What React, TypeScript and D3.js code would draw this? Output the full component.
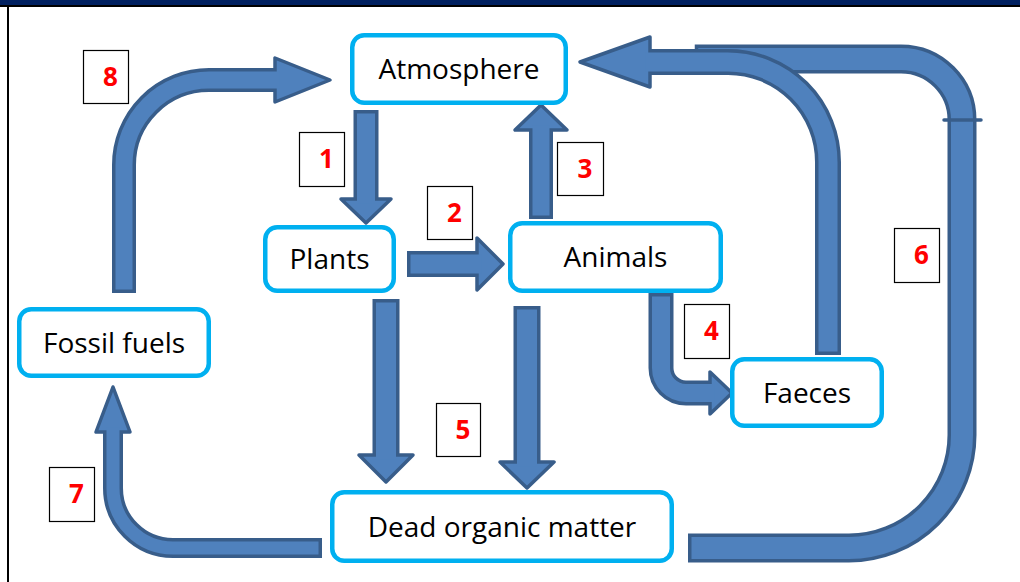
import React, { useEffect, useRef } from 'react';
import * as d3 from 'd3';

type Pt = [number, number];

// Stages of the carbon cycle (box labels)
const stageNames = ['Atmosphere', 'Plants', 'Animals', 'Fossil fuels', 'Faeces', 'Dead organic matter'];
// Step numbers shown in the small label boxes
const stepLabels = ['1', '2', '3', '4', '5', '6', '7', '8'];

// Layout of the stage boxes: x0, y0, x1, y1 (outer edge)
const stageBoxes: [number, number, number, number][] = [
  [350, 33, 568, 105],
  [263, 225, 396, 293],
  [508, 221, 723, 293],
  [17, 307, 211, 378],
  [730, 357, 884, 428],
  [330, 490, 674, 563],
];

// Layout of the step label boxes: x0, y0, x1, y1
const stepBoxes: [number, number, number, number][] = [
  [299, 132, 344, 186],
  [427, 186, 472, 239],
  [557, 142, 603, 195],
  [684, 304, 729, 358],
  [436, 403, 480, 456],
  [894, 228, 939, 282],
  [49, 467, 94, 521],
  [83, 50, 128, 103],
];

interface ArrowSpec {
  pts: Pt[];
  radii: number[];
  width: number;
  head?: { len: number; half: number };
}

const arrows: ArrowSpec[] = [
  // 6: dead organic matter -> atmosphere (drawn first, sits under the faeces arrow)
  { pts: [[688, 548], [962, 548], [962, 59], [693, 59]], radii: [113, 61], width: 29 },
  // faeces -> atmosphere
  { pts: [[828, 355], [828, 62], [580, 62]], radii: [100], width: 26, head: { len: 70, half: 25 } },
  // 1
  { pts: [[366, 110], [366, 223]], radii: [], width: 25, head: { len: 24, half: 25 } },
  // 2
  { pts: [[407, 264], [503, 264]], radii: [], width: 26, head: { len: 26, half: 26 } },
  // 3
  { pts: [[541, 219], [541, 105]], radii: [], width: 24, head: { len: 25, half: 26 } },
  // 4
  { pts: [[661, 293], [661, 393], [732, 393]], radii: [25], width: 25, head: { len: 22, half: 21 } },
  // 5
  { pts: [[386, 299], [386, 482]], radii: [], width: 27, head: { len: 27, half: 27 } },
  { pts: [[527, 306], [527, 488]], radii: [], width: 27, head: { len: 26, half: 27 } },
  // 7
  { pts: [[322, 548], [113, 548], [113, 387]], radii: [60], width: 20, head: { len: 45, half: 17 } },
  // 8
  { pts: [[124, 293], [124, 80], [330, 80]], radii: [85], width: 24, head: { len: 55, half: 22 } },
];

const FILL = '#4f81bd';
const EDGE = '#385d8a';
const EDGE_W = 3.5;

const unit = (a: Pt, b: Pt): Pt => {
  const dx = b[0] - a[0];
  const dy = b[1] - a[1];
  const l = Math.hypot(dx, dy);
  return [dx / l, dy / l];
};

const centerline = (pts: Pt[], radii: number[]) => {
  const p = d3.path();
  p.moveTo(pts[0][0], pts[0][1]);
  for (let i = 1; i < pts.length - 1; i++) {
    p.arcTo(pts[i][0], pts[i][1], pts[i + 1][0], pts[i + 1][1], radii[i - 1]);
  }
  const last = pts[pts.length - 1];
  p.lineTo(last[0], last[1]);
  return p.toString();
};

export default function App() {
  const svgRef = useRef<SVGSVGElement>(null);

  useEffect(() => {
    if (!svgRef.current) return;
    const svg = d3.select(svgRef.current);
    svg.selectAll('*').remove();

    // header strip and left rule
    svg.append('rect').attr('x', 0).attr('y', 0).attr('width', 1020).attr('height', 5).attr('fill', '#002060');
    svg.append('rect').attr('x', 0).attr('y', 5).attr('width', 1020).attr('height', 2).attr('fill', '#000');
    svg.append('rect').attr('x', 7).attr('y', 5).attr('width', 2).attr('height', 577).attr('fill', '#000');

    const g = svg.append('g');

    arrows.forEach((a) => {
      const n = a.pts.length;
      const tip = a.pts[n - 1];
      const dEnd = unit(a.pts[n - 2], tip);
      const dStart = unit(a.pts[0], a.pts[1]);

      // where the shaft stops
      const endCut = a.head ? a.head.len : EDGE_W / 2;
      const base: Pt = [tip[0] - dEnd[0] * endCut, tip[1] - dEnd[1] * endCut];
      const outer = [...a.pts.slice(0, n - 1), base] as Pt[];

      // inner stroke: trimmed at the tail, pushed into the head at the front
      const innerEnd: Pt = a.head
        ? [base[0] + dEnd[0] * (EDGE_W + 1), base[1] + dEnd[1] * (EDGE_W + 1)]
        : [base[0] - dEnd[0] * EDGE_W, base[1] - dEnd[1] * EDGE_W];
      const innerStart: Pt = [a.pts[0][0] + dStart[0] * EDGE_W, a.pts[0][1] + dStart[1] * EDGE_W];
      const inner = [innerStart, ...a.pts.slice(1, n - 1), innerEnd] as Pt[];

      g.append('path')
        .attr('d', centerline(outer, a.radii))
        .attr('fill', 'none')
        .attr('stroke', EDGE)
        .attr('stroke-width', a.width);

      if (a.head) {
        const nx = -dEnd[1];
        const ny = dEnd[0];
        const h = a.head.half;
        const headPts: Pt[] = [
          [base[0] + nx * h, base[1] + ny * h],
          tip,
          [base[0] - nx * h, base[1] - ny * h],
        ];
        g.append('path')
          .attr('d', d3.line()(headPts) + 'Z')
          .attr('fill', FILL)
          .attr('stroke', EDGE)
          .attr('stroke-width', EDGE_W)
          .attr('stroke-linejoin', 'round');
      }

      g.append('path')
        .attr('d', centerline(inner, a.radii))
        .attr('fill', 'none')
        .attr('stroke', FILL)
        .attr('stroke-width', a.width - 2 * EDGE_W);
    });

    // seam on the big right-hand arrow
    g.append('line')
      .attr('x1', 944).attr('x2', 981)
      .attr('y1', 120).attr('y2', 120)
      .attr('stroke', EDGE)
      .attr('stroke-width', 3.5)
      .attr('stroke-linecap', 'round');

    // stage boxes
    const boxes = svg.append('g');
    stageNames.forEach((name, i) => {
      const [x0, y0, x1, y1] = stageBoxes[i];
      boxes.append('rect')
        .attr('x', x0 + 2.25).attr('y', y0 + 2.25)
        .attr('width', x1 - x0 - 4.5).attr('height', y1 - y0 - 4.5)
        .attr('rx', 12)
        .attr('fill', '#fff')
        .attr('stroke', '#00b0f0')
        .attr('stroke-width', 4.5);
      boxes.append('text')
        .attr('x', (x0 + x1) / 2)
        .attr('y', (y0 + y1) / 2 + 10)
        .attr('text-anchor', 'middle')
        .attr('font-family', '"Open Sans", sans-serif')
        .attr('font-size', 28)
        .attr('fill', '#000')
        .text(name);
    });

    // step number labels
    const steps = svg.append('g');
    stepLabels.forEach((lab, i) => {
      const [x0, y0, x1, y1] = stepBoxes[i];
      steps.append('rect')
        .attr('x', x0 + 0.5).attr('y', y0 + 0.5)
        .attr('width', x1 - x0).attr('height', y1 - y0)
        .attr('fill', '#fff')
        .attr('stroke', '#000')
        .attr('stroke-width', 1.2);
      steps.append('text')
        .attr('x', (x0 + x1) / 2 + 5)
        .attr('y', (y0 + y1) / 2 + 9)
        .attr('text-anchor', 'middle')
        .attr('font-family', '"Open Sans", sans-serif')
        .attr('font-weight', 700)
        .attr('font-size', 26)
        .attr('fill', '#ff0000')
        .text(lab);
    });
  }, []);

  return (
    <svg
      ref={svgRef}
      width={1020}
      height={582}
      viewBox="0 0 1020 582"
      style={{ position: 'absolute', left: 0, top: 0, background: '#fff' }}
    />
  );
}
